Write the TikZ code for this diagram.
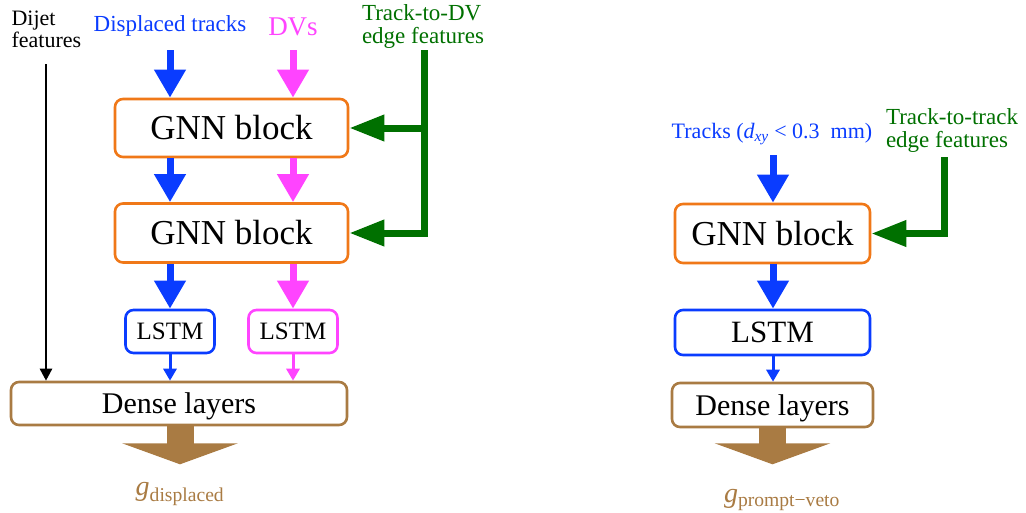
\documentclass[tikz,border=0pt]{standalone}
\usepackage{fontspec}
\setmainfont{Liberation Serif}
\usetikzlibrary{arrows.meta}
\definecolor{trkblue}{HTML}{0A3CFF}
\definecolor{dvpink}{HTML}{FF44FF}
\definecolor{edgegreen}{HTML}{007000}
\definecolor{gnnorange}{HTML}{F07818}
\definecolor{densebrown}{HTML}{A97B43}
\newcommand{\fs}[1]{\fontsize{#1}{#1}\selectfont}
\tikzstyle{every picture}=[x=1pt, y=-1pt]
\tikzstyle{blk}=[draw, rectangle, rounded corners=8pt, line width=2.6pt, inner sep=0pt, fill=white]
\tikzstyle{gnn}=[blk, draw=gnnorange, font=\fs{35pt}]
\tikzstyle{lstm}=[blk, minimum height=43pt]
\tikzstyle{dense}=[blk, draw=densebrown, minimum height=43pt, text depth=0pt, font=\fs{30pt}]
\tikzstyle{fat}=[line width=7pt, -{Triangle[width=30pt,length=28pt]}]
\tikzstyle{thin}=[line width=3pt, -{Triangle[width=13pt,length=12pt]}]
\tikzstyle{edgefeed}=[edgegreen, line width=7pt, -{Triangle[width=25pt,length=35pt]}]
\tikzstyle{bigout}=[densebrown, line width=27pt, -{Triangle[width=115pt,length=21pt]}]

\begin{document}
\begin{tikzpicture}
	\useasboundingbox (0,0) rectangle (1026,512);
	% displaced-vertex tagger
	\node[font=\fs{22pt}, align=left, anchor=west] (dijet) at (8,29) {Dijet\\features};
	\node[trkblue, font=\fs{23pt}] (trkA) at (170,26) {Displaced tracks};
	\node[dvpink, font=\fs{27pt}] (dvA) at (293,27) {DVs};
	\node[edgegreen, font=\fs{23pt}, align=left] (edgeA) at (423,26) {Track-to-DV\\edge features};
	\coordinate (dijetend) at (46,64);
	\coordinate (trkAin) at (170,50);
	\coordinate (dvAin) at (293,50);
	\coordinate (edgeAend) at (424,50);
	\node[gnn, minimum width=233pt, minimum height=58pt] (gnnA1) at (231.5,128) {GNN block};
	\node[gnn, minimum width=233pt, minimum height=59pt] (gnnA2) at (231.5,233) {GNN block};
	\node[lstm, draw=trkblue, minimum width=89pt, font=\fs{25pt}] (lstmA1) at (170,331.5) {LSTM};
	\node[lstm, draw=dvpink, minimum width=89pt, font=\fs{25pt}] (lstmA2) at (293,331.5) {LSTM};
	\node[dense, minimum width=336pt] (denseA) at (179,403.5) {Dense layers};
	\node[densebrown, font=\fs{28pt}, inner sep=0pt] (gA) at (180,494) {\itshape g\textsubscript{\upshape displaced}};
	\draw[fat, trkblue] (trkAin) -- (trkAin |- gnnA1.north);
	\draw[fat, dvpink] (dvAin) -- (dvAin |- gnnA1.north);
	\draw[fat, trkblue] (gnnA1.south -| trkAin) -- (gnnA2.north -| trkAin);
	\draw[fat, dvpink] (gnnA1.south -| dvAin) -- (gnnA2.north -| dvAin);
	\draw[fat, trkblue] (gnnA2.south -| trkAin) -- (lstmA1.north);
	\draw[fat, dvpink] (gnnA2.south -| dvAin) -- (lstmA2.north);
	\draw[thin, trkblue] (lstmA1.south) -- (lstmA1.south |- denseA.north);
	\draw[thin, dvpink] (lstmA2.south) -- (lstmA2.south |- denseA.north);
	\draw[line width=2.5pt, -{Triangle[width=12pt,length=12pt]}] (dijetend) -- (dijetend |- denseA.north);
	\draw[edgefeed] (edgeAend) |- (gnnA2.east);
	\draw[edgefeed] (edgeAend |- gnnA1.east) -- (gnnA1.east);
	\draw[bigout] (denseA.south -| gA) -- ++(0,38);
	% prompt veto
	\node[trkblue, font=\fs{22pt}] (trkB) at (772,134) {Tracks ({\itshape d}\textsubscript{\itshape xy} < 0.3~ mm)};
	\node[edgegreen, font=\fs{23pt}, align=left] (edgeB) at (952,130) {Track-to-track\\edge features};
	\coordinate (trkBin) at (773,155);
	\coordinate (edgeBend) at (944,157);
	\node[gnn, minimum width=195pt, minimum height=59pt] (gnnB) at (772.5,233.5) {GNN block};
	\node[lstm, draw=trkblue, minimum width=195pt, minimum height=45pt, font=\fs{31pt}] (lstmB) at (772.5,332.5) {LSTM};
	\node[dense, minimum width=201pt, minimum height=44pt] (denseB) at (772.5,405) {Dense layers};
	\node[densebrown, font=\fs{28pt}, inner sep=0pt] (gB) at (782,500) {\itshape g\textsubscript{\upshape prompt−veto}};
	\draw[fat, trkblue] (trkBin) -- (trkBin |- gnnB.north);
	\draw[fat, trkblue] (gnnB.south -| trkBin) -- (lstmB.north -| trkBin);
	\draw[thin, trkblue] (lstmB.south -| trkBin) -- (denseB.north -| trkBin);
	\draw[edgefeed] (edgeBend) |- (gnnB.east);
	\draw[bigout] (denseB.south) -- ++(0,36);
\end{tikzpicture}
\end{document}
